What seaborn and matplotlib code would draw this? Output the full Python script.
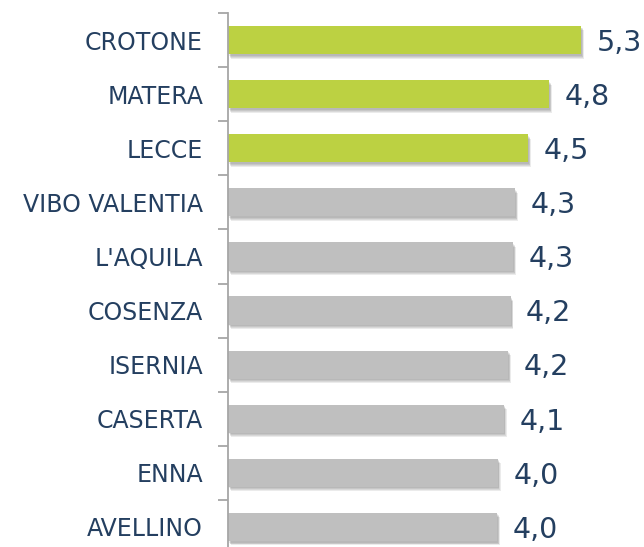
import seaborn as sns
import matplotlib.pyplot as plt
import matplotlib.patheffects as pe
import pandas as pd

# values
provinces = ['CROTONE', 'MATERA', 'LECCE', 'VIBO VALENTIA', "L'AQUILA",
             'COSENZA', 'ISERNIA', 'CASERTA', 'ENNA', 'AVELLINO']
values = [5.30, 4.82, 4.50, 4.31, 4.28, 4.24, 4.20, 4.14, 4.05, 4.04]
bar_colors = ['#bcd142'] * 3 + ['#bfbfbf'] * 7

text_color = '#243f60'
axis_color = '#a6a6a6'

df = pd.DataFrame({'provincia': provinces, 'valore': values})

sns.set_style('white')
plt.rcParams['font.family'] = ['DejaVu Sans']

fig = plt.figure(figsize=(6.44, 5.47), dpi=100)
# axis runs a bit past the bottom edge, like the original
ax = fig.add_axes([228 / 644, -7 / 547, 400 / 644, 541 / 547])

sns.barplot(data=df, x='valore', y='provincia', hue='provincia',
            palette=bar_colors, orient='h', width=0.52, legend=False,
            saturation=1, linewidth=0, ax=ax)

# soft drop shadow built from a few faint layers, mostly below the bar
shadow = [pe.SimplePatchShadow(offset=(0.6 * d, -d), alpha=0.09,
                               shadow_rgbFace='#222222')
          for d in (3.2, 2.5, 1.8, 1.1)]
for bar in ax.patches:
    bar.set_linewidth(0)
    bar.set_path_effects(shadow + [pe.Normal()])

labels = [f'{v:.1f}'.replace('.', ',') for v in values]
for cont, lab in zip(ax.containers, labels):
    texts = ax.bar_label(cont, labels=[lab], padding=11, fontsize=20.5,
                         color=text_color)
    for t in texts:
        t.xyann = (11, -2)   # labels sit a touch below the bar centre

ax.set_xlim(0, 6)
ax.set_ylim(9.5, -0.5)
ax.set_xlabel('')
ax.set_ylabel('')
ax.set_xticks([])

# ticks between categories, labels at the centres
ax.set_yticks(range(len(provinces)))
ax.set_yticklabels(provinces, fontsize=17, color=text_color)
ax.set_yticks([i - 0.5 for i in range(len(provinces) + 1)], minor=True)
ax.tick_params(axis='y', which='major', length=0, pad=18)
ax.tick_params(axis='y', which='minor', length=7, width=1.3,
               color=axis_color, left=True)

for side in ['top', 'right', 'bottom']:
    ax.spines[side].set_visible(False)
ax.spines['left'].set_color(axis_color)
ax.spines['left'].set_linewidth(1.3)

fig.savefig('out.png', dpi=100)
